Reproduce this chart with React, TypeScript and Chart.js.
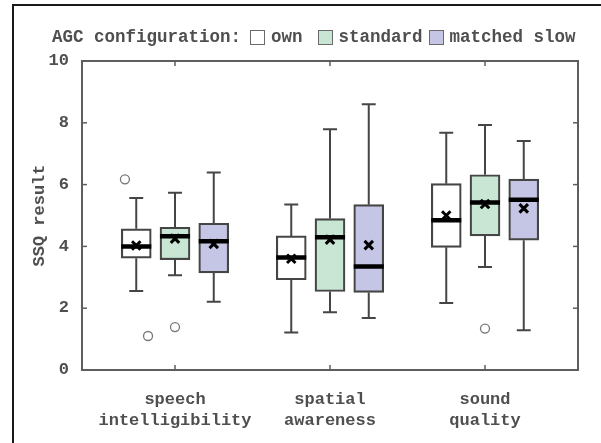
import React, { useEffect, useRef } from 'react';
import { Chart, registerables } from 'chart.js';

Chart.register(...registerables);

// ---------------- data ----------------
const categories = [
  ['speech', 'intelligibility'],
  ['spatial', 'awareness'],
  ['sound', 'quality'],
];
const categoryPositions = [1, 2, 3];
const configurations = ['own', 'standard', 'matched slow'];
const configOffsets = [-0.25, 0, 0.25];
const yTickValues = [0, 2, 4, 6, 8, 10];

// own
const ownLow = [2.56, 1.21, 2.17];
const ownQ1 = [3.62, 2.92, 3.97];
const ownMedian = [4.0, 3.64, 4.85];
const ownQ3 = [4.57, 4.34, 6.03];
const ownHigh = [5.57, 5.36, 7.68];
const ownMean = [4.03, 3.6, 5.0];

// standard
const standardLow = [3.07, 1.87, 3.33];
const standardQ1 = [3.57, 2.54, 4.34];
const standardMedian = [4.33, 4.3, 5.42];
const standardQ3 = [4.62, 4.9, 6.32];
const standardHigh = [5.74, 7.79, 7.93];
const standardMean = [4.25, 4.22, 5.37];

// matched slow
const matchedLow = [2.21, 1.68, 1.29];
const matchedQ1 = [3.14, 2.51, 4.2];
const matchedMedian = [4.17, 3.35, 5.51];
const matchedQ3 = [4.75, 5.35, 6.18];
const matchedHigh = [6.39, 8.6, 7.41];
const matchedMean = [4.08, 4.04, 5.23];

// outliers
const outlierX = [0.677, 0.826, 1.0, 3.0];
const outlierY = [6.17, 1.1, 1.39, 1.34];

// ---------------- styling ----------------
const FILLS = ['#ffffff', '#c8e6d3', '#c5c5e6'];
const BOX_LINE = '#454545';
const AXIS_LINE = '#5e5e5e';
const TEXT = '#4f4f4f';
const FONT = '"Liberation Mono", "Courier New", monospace';
const BOX_HALF = 0.097;
const CAP_HALF = 0.045;

const stats = [
  { low: ownLow, q1: ownQ1, med: ownMedian, q3: ownQ3, high: ownHigh, mean: ownMean },
  { low: standardLow, q1: standardQ1, med: standardMedian, q3: standardQ3, high: standardHigh, mean: standardMean },
  { low: matchedLow, q1: matchedQ1, med: matchedMedian, q3: matchedQ3, high: matchedHigh, mean: matchedMean },
];

const framePlugin = {
  id: 'frameTicks',
  afterDatasetsDraw(chart: any) {
    const { ctx, chartArea: a, scales } = chart;
    ctx.save();
    ctx.strokeStyle = AXIS_LINE;
    ctx.lineWidth = 2;
    ctx.strokeRect(a.left, a.top, a.right - a.left, a.bottom - a.top);
    ctx.lineWidth = 1.5;
    const len = 5;
    const seg = (x1: number, y1: number, x2: number, y2: number) => {
      ctx.beginPath();
      ctx.moveTo(x1, y1);
      ctx.lineTo(x2, y2);
      ctx.stroke();
    };
    scales.y.ticks.forEach((t: any) => {
      const y = scales.y.getPixelForValue(t.value);
      seg(a.left, y, a.left + len, y);
      seg(a.right - len, y, a.right, y);
    });
    scales.x.ticks.forEach((t: any) => {
      const x = scales.x.getPixelForValue(t.value);
      seg(x, a.bottom, x, a.bottom - len);
      seg(x, a.top, x, a.top + len);
    });
    ctx.restore();
  },
};

function buildDatasets() {
  const datasets: any[] = [];
  stats.forEach((s, ci) => {
    const xs = categoryPositions.map((p) => p + configOffsets[ci]);
    // boxes
    datasets.push({
      type: 'bar',
      label: configurations[ci],
      data: xs.map((x, i) => ({ x, y: [s.q1[i], s.q3[i]] })),
      backgroundColor: FILLS[ci],
      borderColor: BOX_LINE,
      borderWidth: 2.2,
      borderSkipped: false,
      barThickness: 30,
      grouped: false,
      order: 3,
    });
    // whiskers
    const w: any[] = [];
    xs.forEach((x, i) => {
      w.push({ x, y: s.low[i] }, { x, y: s.q1[i] }, { x, y: null });
      w.push({ x, y: s.q3[i] }, { x, y: s.high[i] }, { x, y: null });
      w.push({ x: x - CAP_HALF, y: s.low[i] }, { x: x + CAP_HALF, y: s.low[i] }, { x, y: null });
      w.push({ x: x - CAP_HALF, y: s.high[i] }, { x: x + CAP_HALF, y: s.high[i] }, { x, y: null });
    });
    datasets.push({
      type: 'line',
      data: w,
      borderColor: BOX_LINE,
      borderWidth: 2,
      pointRadius: 0,
      spanGaps: false,
      fill: false,
      order: 4,
    });
    // medians
    const m: any[] = [];
    xs.forEach((x, i) => {
      m.push({ x: x - BOX_HALF, y: s.med[i] }, { x: x + BOX_HALF, y: s.med[i] }, { x, y: null });
    });
    datasets.push({
      type: 'line',
      data: m,
      borderColor: '#000000',
      borderWidth: 4.5,
      pointRadius: 0,
      spanGaps: false,
      fill: false,
      order: 2,
    });
    // means
    datasets.push({
      type: 'line',
      data: xs.map((x, i) => ({ x, y: s.mean[i] })),
      showLine: false,
      pointStyle: 'crossRot',
      pointRadius: 6,
      pointBorderWidth: 3,
      pointBorderColor: '#000000',
      order: 1,
    });
  });
  datasets.push({
    type: 'line',
    data: outlierX.map((x, i) => ({ x, y: outlierY[i] })),
    showLine: false,
    pointStyle: 'circle',
    pointRadius: 4.5,
    pointBorderWidth: 1.3,
    pointBorderColor: '#777777',
    pointBackgroundColor: '#ffffff',
    order: 1,
  });
  return datasets;
}

export default function App() {
  const ref = useRef<HTMLCanvasElement>(null);
  useEffect(() => {
    if (!ref.current) return;
    const chart = new Chart(ref.current, {
      type: 'bar',
      data: { datasets: buildDatasets() },
      plugins: [framePlugin],
      options: {
        responsive: false,
        animation: false,
        events: [],
        layout: { padding: { top: 61, right: 23, left: 0, bottom: 0 } },
        plugins: { legend: { display: false }, tooltip: { enabled: false } },
        scales: {
          x: {
            type: 'linear',
            offset: false,
            min: 0.4,
            max: 3.6,
            grid: { display: false, offset: false },
            border: { display: false },
            afterBuildTicks: (scale: any) => {
              scale.ticks = categoryPositions.map((v) => ({ value: v }));
            },
            afterFit: (scale: any) => {
              scale.height = 73;
            },
            ticks: {
              autoSkip: false,
              maxRotation: 0,
              padding: 11,
              color: TEXT,
              font: { family: FONT, size: 17, weight: 'bold', lineHeight: 1.25 },
              callback: (v: any) => categories[categoryPositions.indexOf(Number(v))] as any,
            },
          },
          y: {
            min: 0,
            max: 10,
            grid: { display: false },
            border: { display: false },
            afterBuildTicks: (scale: any) => {
              scale.ticks = yTickValues.map((v) => ({ value: v }));
            },
            afterFit: (scale: any) => {
              scale.width = 82;
            },
            ticks: {
              padding: 5,
              color: TEXT,
              font: { family: FONT, size: 17, weight: 'bold' },
            },
            title: {
              display: true,
              text: 'SSQ result',
              color: TEXT,
              padding: { top: 30, bottom: 0 },
              font: { family: FONT, size: 17, weight: 'bold', lineHeight: 1.2 },
            },
          },
        },
      } as any,
    });
    return () => chart.destroy();
  }, []);

  const legendText: React.CSSProperties = {
    fontFamily: FONT,
    fontWeight: 'bold',
    fontSize: '17.5px',
    color: TEXT,
    whiteSpace: 'pre',
    lineHeight: '19px',
  };
  const square = (fill: string, ml: number): React.CSSProperties => ({
    width: 13,
    height: 13,
    border: '1.5px solid #6a6a6a',
    background: fill,
    marginLeft: ml,
    marginRight: 6,
    flex: '0 0 auto',
  });
  const gaps = [9, 15, 6];

  return (
    <div style={{ position: 'fixed', left: 0, top: 0, width: 601, height: 443, background: '#ffffff' }}>
      <canvas ref={ref} width={601} height={443} style={{ position: 'absolute', left: 0, top: 0 }} />
      <div
        style={{
          position: 'absolute',
          left: 12,
          top: 4,
          width: 600,
          height: 450,
          borderTop: '2.5px solid #1a1a1a',
          borderLeft: '2.5px solid #1a1a1a',
          pointerEvents: 'none',
        }}
      />
      <div style={{ position: 'absolute', left: 52, top: 28, height: 19, display: 'flex', alignItems: 'center' }}>
        <span style={legendText}>AGC configuration:</span>
        {configurations.map((c, i) => (
          <React.Fragment key={c}>
            <span style={square(FILLS[i], gaps[i])} />
            <span style={legendText}>{c}</span>
          </React.Fragment>
        ))}
      </div>
    </div>
  );
}
